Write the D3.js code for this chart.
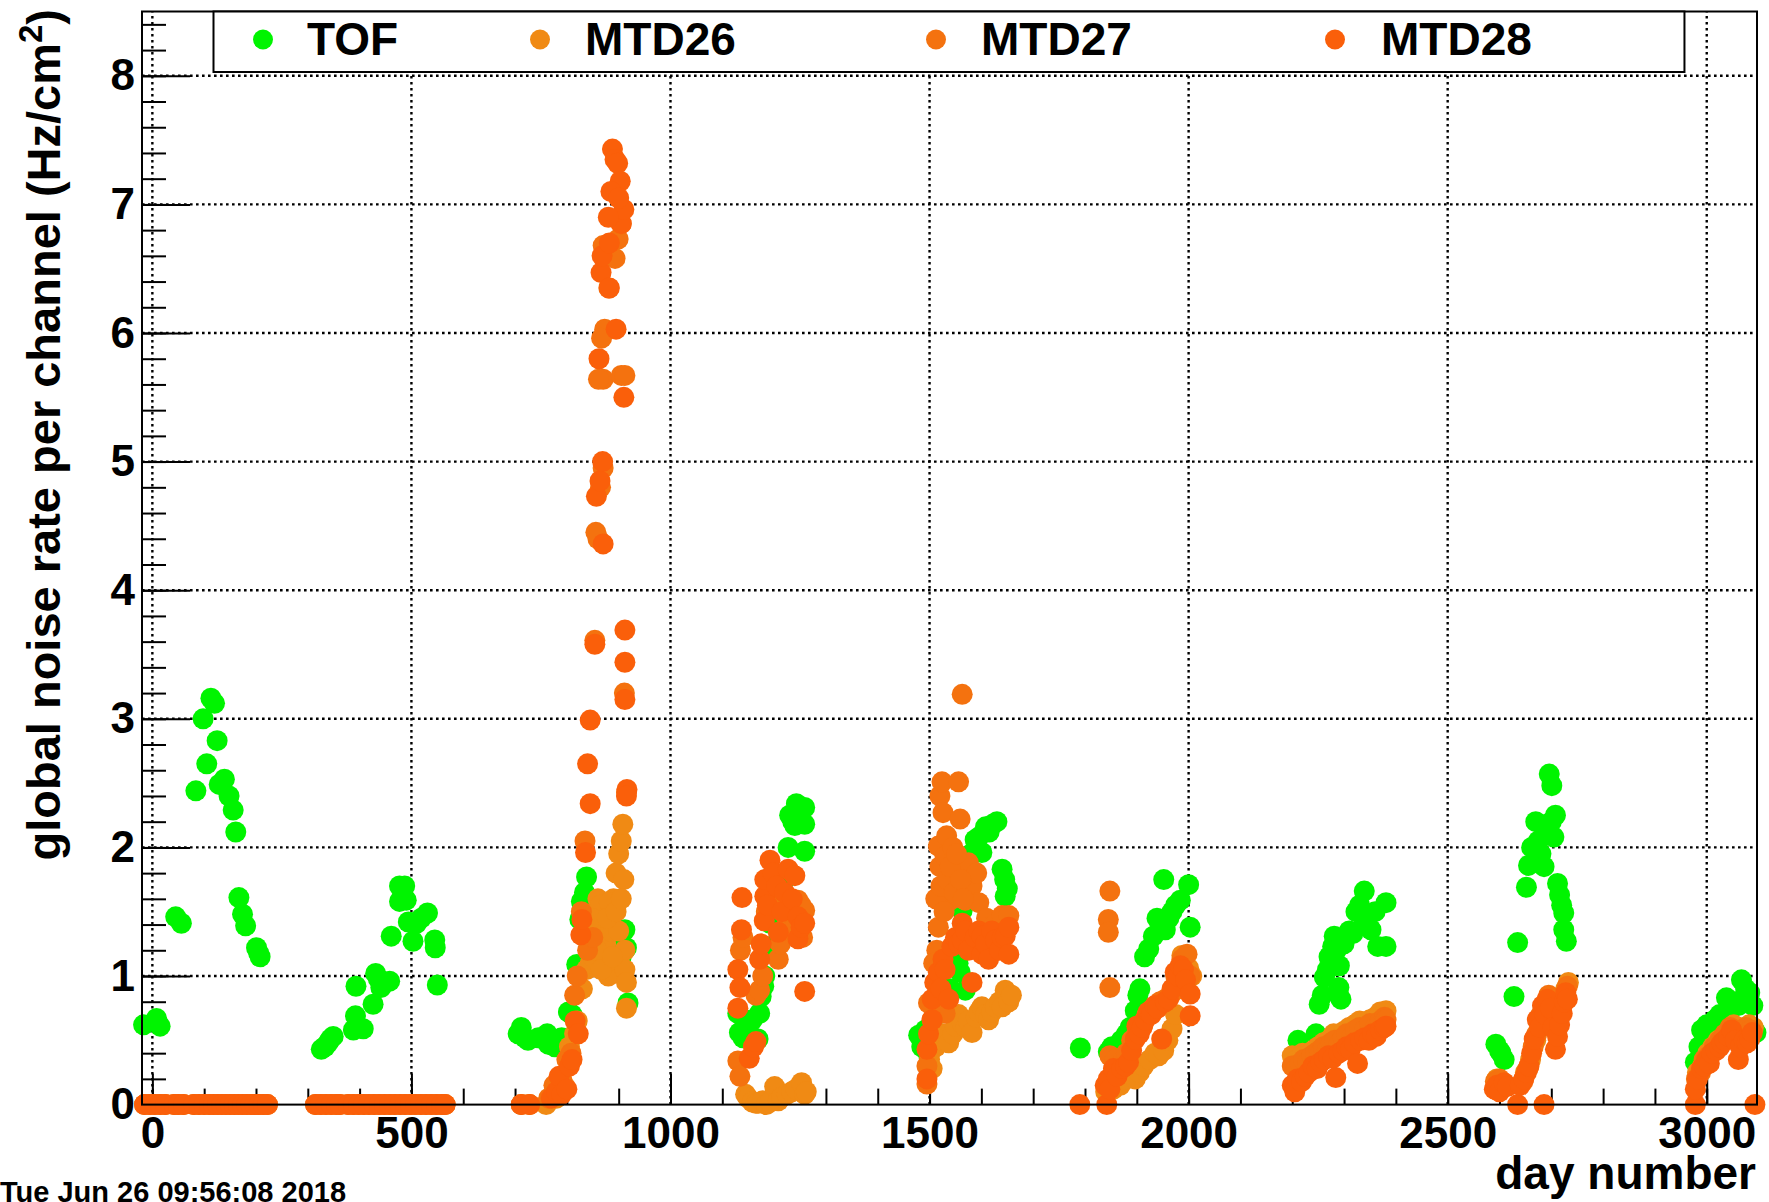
<!DOCTYPE html>
<html>
<head>
<meta charset="utf-8">
<script src="https://cdn.jsdelivr.net/npm/d3@7"></script>
<style>
  html, body { margin: 0; padding: 0; background: #ffffff; }
  svg { display: block; }
  text { font-family: "Liberation Sans", Arial, Helvetica, sans-serif; font-weight: bold; fill: #000; }
</style>
</head>
<body>
<svg id="chart" width="1769" height="1202"></svg>
<script>
// ---------------- data ----------------
const seriesNames  = ["TOF", "MTD26", "MTD27", "MTD28"];
const seriesColors = ["#00f400", "#f08a14", "#f4720f", "#fa5f0a"];

const xTickValues = [0, 500, 1000, 1500, 2000, 2500, 3000];
const yTickValues = [0, 1, 2, 3, 4, 5, 6, 7, 8];

const xTitle = "day number";
const yTitle = "global noise rate per channel (Hz/cm";
const dateStamp = "Tue Jun 26 09:56:08 2018";

// [day, rate] pairs
const tofPoints = [
  [-17,0.62],[8,0.67],[15,0.61],[45,1.46],[56,1.41],[84,2.44],[98,3.0],[105,2.65],[113,3.16],[120,3.12],
  [125,2.83],[129,2.49],[139,2.53],[148,2.40],[156,2.29],[161,2.12],[167,1.61],[174,1.48],[180,1.39],
  [201,1.22],[205,1.18],[208,1.15],
  [326,0.43],[333,0.45],[339,0.48],[344,0.51],[349,0.53],[388,0.58],[392,0.69],[407,0.59],[393,0.92],
  [426,0.78],[431,1.02],[436,0.98],[441,0.91],[458,0.96],[461,1.31],[477,1.70],[487,1.70],[477,1.58],
  [490,1.59],[494,1.42],[503,1.27],[510,1.41],[519,1.45],[531,1.49],[545,1.28],[546,1.22],[550,0.93],
  [706,0.55],[712,0.60],[719,0.52],[725,0.50],[745,0.52],[762,0.55],[764,0.47],[777,0.45],[790,0.52],
  [803,0.72],[810,0.70],[819,1.09],[825,1.44],[828,1.58],[834,1.65],[838,1.77],[845,1.55],[860,1.29],
  [870,1.25],[880,1.04],[885,1.20],[892,1.30],[900,1.35],[905,1.15],[912,1.36],[915,1.22],[918,0.79],[910,1.05],
  [1130,0.71],[1133,0.56],[1140,0.52],[1150,0.59],[1158,0.66],[1169,0.51],[1172,0.71],[1175,0.84],[1180,0.92],
  [1182,1.0],[1185,1.23],[1192,1.41],[1200,1.48],[1214,1.5],[1220,1.75],[1227,2.0],[1230,2.25],[1236,2.2],
  [1240,2.17],[1243,2.34],[1250,2.3],[1259,2.31],[1259,2.18],[1259,1.97],
  [1479,0.54],[1485,0.45],[1492,0.58],[1498,0.39],[1505,0.62],[1520,0.75],[1540,0.9],[1555,1.1],[1559,1.03],
  [1563,1.51],[1569,0.89],[1575,1.8],[1580,1.95],[1588,2.06],[1595,2.08],[1601,1.96],[1608,2.16],[1615,2.12],
  [1622,2.18],[1630,2.2],[1640,1.83],[1645,1.75],[1650,1.68],[1646,1.62],
  [1791,0.44],[1845,0.41],[1852,0.45],[1870,0.5],[1880,0.55],[1887,0.60],[1897,0.73],[1902,0.85],[1906,0.9],
  [1915,1.15],[1923,1.21],[1932,1.31],[1939,1.45],[1945,1.4],[1955,1.36],[1962,1.45],[1968,1.5],[1975,1.55],
  [1984,1.59],[1952,1.75],[2000,1.71],[2003,1.38],
  [2211,0.50],[2246,0.55],[2252,0.78],[2258,0.85],[2262,0.99],[2268,1.05],[2271,1.15],[2278,1.23],[2281,1.31],
  [2285,1.2],[2291,1.08],[2294,0.82],[2290,0.91],[2300,1.25],[2310,1.35],[2317,1.33],[2323,1.50],[2330,1.55],
  [2339,1.66],[2339,1.41],[2345,1.45],[2352,1.36],[2360,1.5],[2365,1.23],[2381,1.23],[2381,1.57],
  [2593,0.47],[2600,0.42],[2603,0.40],[2609,0.35],[2628,0.84],[2635,1.26],[2652,1.69],[2656,1.86],[2662,2.0],
  [2670,2.20],[2675,2.05],[2680,1.95],[2686,1.85],[2690,2.1],[2696,2.57],[2701,2.48],[2705,2.08],[2708,2.25],
  [2700,2.2],[2712,1.72],[2716,1.63],[2720,1.55],[2724,1.49],[2724,1.36],[2729,1.27],
  [2978,0.33],[2985,0.45],[2990,0.58],[3000,0.62],[3010,0.6],[3016,0.66],[3025,0.7],[3038,0.83],[3045,0.75],
  [3055,0.8],[3061,0.77],[3067,0.97],[3075,0.9],[3083,0.87],[3089,0.77],[3095,0.56]
];

// days on which all three MTD trays read 0
const mtdZeroDays = [
  -15,-5,5,15,25,42,50,60,80,90,100,110,118,126,134,142,150,158,166,174,182,190,198,206,214,222,
  315,325,335,345,355,362,378,388,398,408,418,428,438,448,458,468,478,488,498,508,518,528,538,548,558,565,
  712,728
];

const mtd26Points = [
  [760,0.0],[780,0.05],[795,0.15],[805,0.45],[815,0.55],[820,0.65],[830,0.9],[838,1.05],[845,1.1],[850,1.15],
  [855,1.5],[860,1.6],[865,1.55],[870,1.4],[875,1.25],[880,1.0],[885,1.35],[890,1.6],[895,1.8],[900,1.95],
  [905,2.05],[908,2.18],[910,1.75],[912,1.2],[912,1.05],[915,0.95],[915,0.75],[875,1.1],[900,1.35],[882,1.57],
  [842,1.3],[848,1.45],[858,1.2],[866,1.05],[878,1.45],[888,1.15],[895,1.5],[905,1.6],
  [1145,0.08],[1150,0.05],[1158,0.02],[1165,0.01],[1169,0.01],[1178,0.03],[1185,0.0],[1192,0.02],[1201,0.14],
  [1208,0.03],[1215,0.06],[1225,0.08],[1234,0.10],[1242,0.12],[1253,0.17],[1259,0.08],[1262,0.1],
  [1500,0.35],[1505,0.28],[1512,0.45],[1517,0.50],[1525,0.55],[1537,0.48],[1545,0.55],[1550,0.61],[1556,0.7],
  [1563,0.63],[1570,0.6],[1575,0.65],[1582,0.56],[1590,0.68],[1595,0.72],[1601,0.76],[1608,0.7],[1614,0.66],
  [1620,0.72],[1627,0.76],[1635,0.8],[1640,0.76],[1646,0.89],[1653,0.80],[1658,0.85],
  [1840,0.1],[1845,0.16],[1855,0.12],[1868,0.15],[1880,0.2],[1897,0.20],[1905,0.25],[1913,0.30],[1925,0.35],
  [1935,0.4],[1942,0.38],[1952,0.42],[1960,0.5],[1968,0.59],[1975,0.7],[1980,0.9],[1987,1.16],[2000,1.06],[2006,1.0],
  [2200,0.38],[2210,0.35],[2220,0.4],[2230,0.38],[2240,0.42],[2250,0.45],[2260,0.48],[2270,0.5],[2280,0.55],
  [2290,0.52],[2300,0.57],[2310,0.6],[2320,0.62],[2330,0.65],[2340,0.62],[2350,0.66],[2360,0.68],[2370,0.72],[2381,0.73],
  [2595,0.2],[2605,0.17],[2650,0.25],[2660,0.35],[2670,0.5],[2680,0.62],[2690,0.72],[2700,0.8],[2710,0.7],
  [2720,0.82],[2728,0.9],[2733,0.95],
  [2982,0.25],[2992,0.3],[3002,0.4],[3012,0.45],[3022,0.5],[3032,0.52],[3042,0.55],[3052,0.62],[3062,0.6],
  [3072,0.55],[3082,0.62],[3090,0.6]
];

const mtd27Points = [
  [765,0.05],[775,0.15],[790,0.2],[800,0.35],[808,0.4],[815,0.85],[820,1.0],[828,1.5],[835,2.05],[854,3.61],
  [860,4.4],[865,4.8],[870,4.95],[873,6.03],[867,5.96],[870,5.64],[861,5.64],[905,5.67],[912,5.67],[899,6.73],
  [893,6.58],[881,6.35],[905,6.85],[870,6.68],[911,3.2],[915,2.43],[856,4.45],[840,1.2],[850,1.3],
  [1130,0.34],[1134,0.22],[1135,1.2],[1140,1.3],[1165,0.85],[1172,0.89],[1178,1.0],[1185,1.5],[1195,1.65],
  [1200,1.55],[1208,1.13],[1212,1.25],[1225,1.45],[1232,1.35],[1240,1.5],[1246,1.59],[1252,1.55],[1259,1.51],[1255,1.3],
  [1495,0.16],[1495,0.30],[1498,0.79],[1505,0.66],[1514,1.20],[1517,1.38],[1517,2.01],[1520,1.85],[1520,2.40],
  [1524,2.51],[1526,2.27],[1530,1.93],[1533,2.09],[1540,1.59],[1545,2.0],[1550,1.80],[1556,2.51],[1559,2.22],
  [1563,3.19],[1569,1.59],[1575,1.88],[1582,1.7],[1591,1.8],[1595,1.57],[1610,1.45],[1625,1.4],[1640,1.47],
  [1653,1.47],[1530,0.71],
  [1512,1.6],[1522,1.7],[1528,1.5],[1535,1.75],[1540,1.85],[1548,1.65],[1552,1.95],[1560,1.75],[1565,1.6],
  [1512,0.95],[1508,1.1],
  [1848,1.66],[1845,1.44],[1845,1.34],[1848,0.91],[1848,0.38],[1858,0.35],[1865,0.30],[1880,0.4],[1890,0.5],
  [1900,0.55],[1912,0.62],[1920,0.7],[1929,0.74],[1945,0.8],[1955,0.82],[1965,0.85],[1975,1.0],[1987,1.13],
  [1997,1.17],[2003,1.0],
  [2200,0.3],[2208,0.28],[2215,0.32],[2222,0.35],[2230,0.33],[2238,0.38],[2245,0.4],[2252,0.42],[2260,0.45],
  [2268,0.43],[2275,0.48],[2282,0.5],[2290,0.47],[2298,0.52],[2305,0.55],[2315,0.53],[2322,0.58],[2330,0.6],
  [2340,0.58],[2350,0.63],[2360,0.6],[2370,0.65],[2378,0.68],[2381,0.66],
  [2592,0.18],[2600,0.2],[2610,0.15],[2645,0.18],[2655,0.28],[2665,0.45],[2672,0.55],[2680,0.7],[2688,0.78],
  [2695,0.85],[2705,0.72],[2712,0.6],[2720,0.78],[2726,0.85],[2731,0.92],
  [2980,0.2],[2988,0.25],[2995,0.35],[3005,0.38],[3015,0.45],[3025,0.5],[3035,0.55],[3045,0.6],[3055,0.58],
  [3065,0.55],[3075,0.6],[3085,0.58]
];

const mtd28Points = [
  [770,0.05],[780,0.1],[785,0.22],[790,0.08],[800,0.12],[805,0.3],[810,0.35],[816,0.65],[822,0.55],[827,1.32],
  [829,1.44],[836,1.96],[840,2.65],[845,2.34],[845,2.99],[854,3.58],[857,4.73],[864,4.85],[869,5.0],[870,4.36],
  [862,5.80],[866,6.47],[868,6.60],[882,6.35],[882,6.70],[888,7.43],[893,7.35],[898,7.32],[903,7.18],[905,6.85],
  [910,6.96],[895,6.03],[910,5.5],[912,3.69],[912,3.44],[912,3.15],[916,2.45],[915,2.40],[880,6.9],[885,7.1],[900,7.05],
  [1130,1.05],[1134,0.91],[1130,0.75],[1138,1.61],[1137,1.36],[1152,0.36],[1160,0.45],[1165,0.49],[1172,1.13],
  [1175,1.25],[1181,1.43],[1182,1.62],[1182,1.75],[1187,1.55],[1192,1.90],[1198,1.80],[1205,1.7],[1208,1.34],
  [1215,1.5],[1220,1.65],[1227,1.83],[1235,1.6],[1240,1.78],[1246,1.46],[1246,1.29],[1252,1.38],[1259,1.41],[1259,0.88],
  [1495,0.2],[1495,0.43],[1498,0.55],[1505,0.66],[1505,0.82],[1510,0.95],[1517,1.03],[1522,0.9],[1526,1.13],
  [1530,1.05],[1537,0.82],[1543,1.23],[1550,1.3],[1556,1.25],[1563,1.41],[1563,1.28],[1570,1.35],[1575,1.2],
  [1582,0.95],[1588,1.3],[1595,1.35],[1601,1.31],[1601,1.17],[1608,1.25],[1614,1.13],[1620,1.35],[1627,1.28],
  [1635,1.2],[1640,1.3],[1646,1.31],[1653,1.17],[1653,1.38],
  [1790,0],[1842,0],[1839,0.15],[1845,0.2],[1848,0.12],[1855,0.28],[1862,0.22],[1871,0.28],[1878,0.3],[1884,0.33],
  [1890,0.42],[1897,0.51],[1900,0.61],[1905,0.55],[1910,0.6],[1916,0.66],[1922,0.72],[1928,0.7],[1935,0.77],
  [1940,0.75],[1948,0.51],[1955,0.8],[1961,0.82],[1968,0.9],[1974,1.03],[1980,1.0],[1984,1.08],[1990,1.05],
  [1994,0.97],[2003,0.86],[2003,0.69],
  [2200,0.15],[2205,0.1],[2210,0.2],[2218,0.18],[2225,0.22],[2232,0.25],[2240,0.3],[2248,0.28],[2255,0.33],
  [2262,0.35],[2270,0.38],[2278,0.36],[2284,0.21],[2290,0.4],[2298,0.42],[2305,0.45],[2312,0.43],[2320,0.48],
  [2326,0.32],[2332,0.5],[2340,0.52],[2348,0.5],[2355,0.55],[2362,0.53],[2370,0.58],[2378,0.6],[2381,0.61],
  [2590,0.12],[2595,0.15],[2600,0.1],[2609,0.17],[2615,0.14],[2635,0],[2686,0],[2640,0.15],[2647,0.2],[2652,0.25],
  [2657,0.3],[2662,0.4],[2667,0.51],[2673,0.66],[2678,0.6],[2683,0.77],[2688,0.7],[2692,0.82],[2698,0.75],
  [2703,0.6],[2708,0.43],[2712,0.53],[2716,0.62],[2721,0.71],[2725,0.8],[2728,0.87],[2731,0.82],
  [2978,0],[3093,0],[2978,0.12],[2982,0.2],[2990,0.28],[2995,0.3],[3000,0.35],[3005,0.32],[3010,0.4],[3018,0.42],
  [3025,0.45],[3029,0.48],[3035,0.5],[3042,0.53],[3048,0.58],[3055,0.5],[3061,0.35],[3065,0.45],[3072,0.5],
  [3078,0.48],[3083,0.51],[3088,0.56]
];

// ---------------- layout ----------------
const W = 1769, H = 1202;
const frame = { left: 142, right: 1757, top: 11.5, bottom: 1104.6 };
const xDomain = [-20, 3097];
const yDomain = [0, 8.5];

const svg = d3.select("#chart");
svg.append("rect").attr("width", W).attr("height", H).attr("fill", "#fff");

const x = d3.scaleLinear().domain(xDomain).range([frame.left, frame.right]);
const y = d3.scaleLinear().domain(yDomain).range([frame.bottom, frame.top]);

// grid (dotted)
const grid = svg.append("g").attr("class", "grid")
  .attr("stroke", "#000").attr("stroke-width", 2.4).attr("stroke-dasharray", "2.6,3.4");
grid.selectAll("line.gx").data(xTickValues).join("line")
  .attr("x1", d => x(d)).attr("x2", d => x(d))
  .attr("y1", frame.bottom).attr("y2", frame.top);
grid.selectAll("line.gy").data(yTickValues.filter(v => v > 0)).join("line")
  .attr("x1", frame.left).attr("x2", frame.right)
  .attr("y1", d => y(d)).attr("y2", d => y(d));

// axes
const minorX = d3.range(0, 3001, 100);
const minorY = d3.range(0, 8.41, 0.2);

const xAxisMinor = d3.axisBottom(x).tickValues(minorX).tickSize(-16).tickFormat("");
const xAxisMajor = d3.axisBottom(x).tickValues(xTickValues).tickSize(-31).tickPadding(12).tickFormat(d3.format("d"));
const yAxisMinor = d3.axisLeft(y).tickValues(minorY).tickSize(-24).tickFormat("");
const yAxisMajor = d3.axisLeft(y).tickValues(yTickValues).tickSize(-48).tickPadding(7).tickFormat(d3.format("d"));

function styleAxis(g) {
  g.select(".domain").remove();
  g.selectAll(".tick line").attr("stroke", "#000").attr("stroke-width", 2);
  g.selectAll(".tick text").attr("font-size", 44)
    .attr("font-family", "'Liberation Sans', Arial, sans-serif").attr("font-weight", "bold").attr("fill", "#000");
}
svg.append("g").attr("transform", `translate(0,${frame.bottom})`).call(xAxisMinor).call(styleAxis);
svg.append("g").attr("transform", `translate(0,${frame.bottom})`).call(xAxisMajor).call(styleAxis);
svg.append("g").attr("transform", `translate(${frame.left},0)`).call(yAxisMinor).call(styleAxis);
svg.append("g").attr("transform", `translate(${frame.left},0)`).call(yAxisMajor).call(styleAxis);

// data series
const series = [
  { name: seriesNames[0], color: seriesColors[0], pts: tofPoints },
  { name: seriesNames[1], color: seriesColors[1], pts: mtdZeroDays.map(d => [d, 0]).concat(mtd26Points) },
  { name: seriesNames[2], color: seriesColors[2], pts: mtdZeroDays.map(d => [d, 0]).concat(mtd27Points) },
  { name: seriesNames[3], color: seriesColors[3], pts: mtdZeroDays.map(d => [d, 0]).concat(mtd28Points) }
];
const R = 10.5;
series.forEach(s => {
  svg.append("g").attr("fill", s.color)
    .selectAll("circle").data(s.pts).join("circle")
    .attr("cx", d => x(d[0])).attr("cy", d => y(d[1])).attr("r", R);
});

// frame
svg.append("rect")
  .attr("x", frame.left).attr("y", frame.top)
  .attr("width", frame.right - frame.left).attr("height", frame.bottom - frame.top)
  .attr("fill", "none").attr("stroke", "#000").attr("stroke-width", 2);

// legend
const legend = { x0: x(118), x1: x(2957), y0: frame.top, y1: 72 };
svg.append("rect")
  .attr("x", legend.x0).attr("y", legend.y0)
  .attr("width", legend.x1 - legend.x0).attr("height", legend.y1 - legend.y0)
  .attr("fill", "#fff").attr("stroke", "#000").attr("stroke-width", 2);
const legendMarkerX = [263, 540, 936, 1335];
const legendTextX = [307, 585, 981, 1381];
series.forEach((s, i) => {
  svg.append("circle").attr("cx", legendMarkerX[i]).attr("cy", 39.5).attr("r", 10).attr("fill", s.color);
  svg.append("text").attr("x", legendTextX[i]).attr("y", 54.5)
    .attr("font-size", 46).text(s.name);
});

// axis titles
svg.append("text")
  .attr("x", frame.right - 1).attr("y", 1189)
  .attr("text-anchor", "end").attr("font-size", 46).text(xTitle);

const yt = svg.append("text")
  .attr("transform", "translate(60,9) rotate(-90)")
  .attr("text-anchor", "end").attr("font-size", 47);
yt.append("tspan").text(yTitle);
yt.append("tspan").attr("font-size", 33).attr("dy", -18).text("2");
yt.append("tspan").attr("dy", 18).text(")");

// date stamp
svg.append("text").attr("x", 0).attr("y", 1202).attr("font-size", 29).text(dateStamp);
</script>
</body>
</html>
